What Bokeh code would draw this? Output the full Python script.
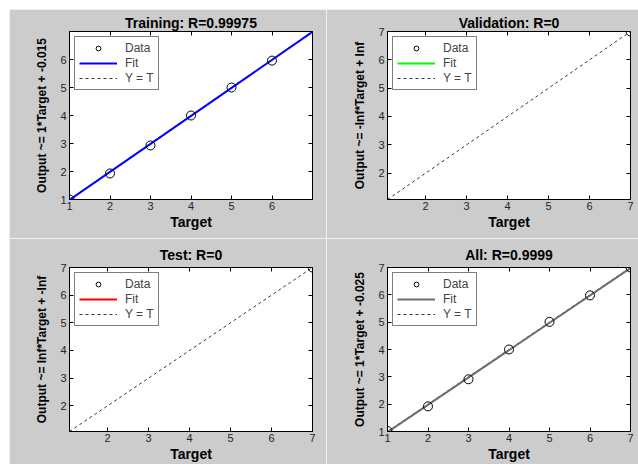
from bokeh.plotting import figure
from bokeh.models import Range1d, LinearAxis, FixedTicker, Legend, LegendItem, Spacer
from bokeh.layouts import gridplot, row, column
from bokeh.embed import file_html
from bokeh.resources import INLINE

# ---------------- data ----------------
titles = ["Training: R=0.99975", "Validation: R=0", "Test: R=0", "All: R=0.9999"]
ylabels = ["Output ~= 1*Target + -0.015", "Output ~= -Inf*Target + Inf",
           "Output ~= Inf*Target + -Inf", "Output ~= 1*Target + -0.025"]

train_target = [1, 2, 3, 4, 5, 6]
train_output = [1.0, 1.93, 2.93, 4.0, 5.0, 5.96]
train_fit = (1.0, -0.015)

val_target = [7]
val_output = [7]
val_fit = (float("-inf"), float("inf"))

test_target = [7]
test_output = [7]
test_fit = (float("inf"), float("-inf"))

all_target = [1, 2, 3, 4, 5, 6, 7]
all_output = [1.02, 1.92, 2.91, 4.0, 5.01, 5.98, 7.0]
all_fit = (1.0, -0.025)

fit_colors = ["#0000ff", "#00ff00", "#ff0000", "#6e6e6e"]
axis_ranges = [(1, 7), (1.07, 7), (1.07, 7), (1, 7)]
tick_sets = [[1, 2, 3, 4, 5, 6], [2, 3, 4, 5, 6, 7], [2, 3, 4, 5, 6, 7], [1, 2, 3, 4, 5, 6, 7]]

BG = "#cccccc"
FONT = "Liberation Sans"
TICK_COLOR = "#262626"


def make_panel(i, tx, ty, fit, width, height, borders, title_standoff):
    lo, hi = axis_ranges[i]
    bl, br, bt, bb = borders
    p = figure(width=width, height=height, x_range=Range1d(lo, hi), y_range=Range1d(lo, hi),
               output_backend="svg", toolbar_location=None,
               min_border_left=bl, min_border_right=br, min_border_top=bt, min_border_bottom=bb,
               background_fill_color="white", border_fill_color=BG,
               outline_line_color="black", outline_line_width=1)
    p.grid.visible = False
    p.title.text = titles[i]
    p.title.text_font = FONT
    p.title.text_font_size = "14px"
    p.title.text_font_style = "bold"
    p.title.align = "center"
    p.title.text_color = "black"
    p.title.standoff = title_standoff

    ticker = FixedTicker(ticks=tick_sets[i])
    for ax in (p.xaxis[0], p.yaxis[0]):
        ax.ticker = ticker
        ax.major_tick_in = 4
        ax.major_tick_out = 0
        ax.minor_tick_line_color = None
        ax.axis_line_color = "black"
        ax.major_tick_line_color = "black"
        ax.major_label_text_font = FONT
        ax.major_label_text_font_size = "11px"
        ax.major_label_text_color = TICK_COLOR
        ax.axis_label_text_font = FONT
        ax.axis_label_text_font_style = "bold"
        ax.axis_label_text_color = "black"
    p.xaxis[0].axis_label = "Target"
    p.xaxis[0].axis_label_text_font_size = "14px"
    p.xaxis[0].major_label_standoff = 2
    p.xaxis[0].axis_label_standoff = 1
    p.yaxis[0].axis_label = ylabels[i]
    p.yaxis[0].axis_label_text_font_size = "12px"
    p.yaxis[0].major_label_standoff = 3
    p.yaxis[0].axis_label_standoff = 8

    for loc in ("above", "right"):
        ax = LinearAxis(ticker=ticker, major_tick_in=4, major_tick_out=0,
                        minor_tick_line_color=None, major_label_text_font_size="0px",
                        major_label_standoff=0, axis_line_color="black",
                        major_tick_line_color="black")
        p.add_layout(ax, loc)

    # Y = T reference line
    r_yt = p.line([lo, hi], [lo, hi], line_color="black", line_width=0.8, line_dash="3 3")
    # Fit line: Output = slope*Target + intercept (undefined -> NaN for the Inf fits)
    slope, icpt = fit
    fx = [lo, hi]
    fy = []
    for v in fx:
        y = slope * v + icpt
        fy.append(y if y == y and abs(y) != float("inf") else float("nan"))
    r_fit = p.line(fx, fy, line_color=fit_colors[i], line_width=2)
    # Data
    r_data = p.scatter(tx, ty, marker="circle", size=9, fill_color=None,
                       line_color="black", line_width=1)

    legend = Legend(items=[LegendItem(label="Data", renderers=[r_data]),
                           LegendItem(label="Fit", renderers=[r_fit]),
                           LegendItem(label="Y = T", renderers=[r_yt])],
                    location="top_left", margin=5, padding=4, spacing=1,
                    label_height=12, glyph_height=12, glyph_width=38, label_standoff=8,
                    label_text_font=FONT, label_text_font_size="12px",
                    label_text_line_height=1.0,
                    border_line_color="black", border_line_width=1,
                    background_fill_color="white", background_fill_alpha=1)
    p.add_layout(legend, "center")
    return p


p1 = make_panel(0, train_target, train_output, train_fit, 317, 229, (60, 14, 22, 39), 2)
p2 = make_panel(1, val_target, val_output, val_fit, 312, 229, (61, 8, 22, 39), 2)
p3 = make_panel(2, test_target, test_output, test_fit, 317, 226, (60, 14, 29, 30), 9)
p4 = make_panel(3, all_target, all_output, all_fit, 312, 226, (61, 8, 29, 30), 9)

grid = gridplot([[p1, p2], [p3, p4]], toolbar_location=None)
layout = row(Spacer(width=9, height=464), column(Spacer(width=629, height=9), grid))

open("out.html", "w").write(file_html(layout, INLINE))
